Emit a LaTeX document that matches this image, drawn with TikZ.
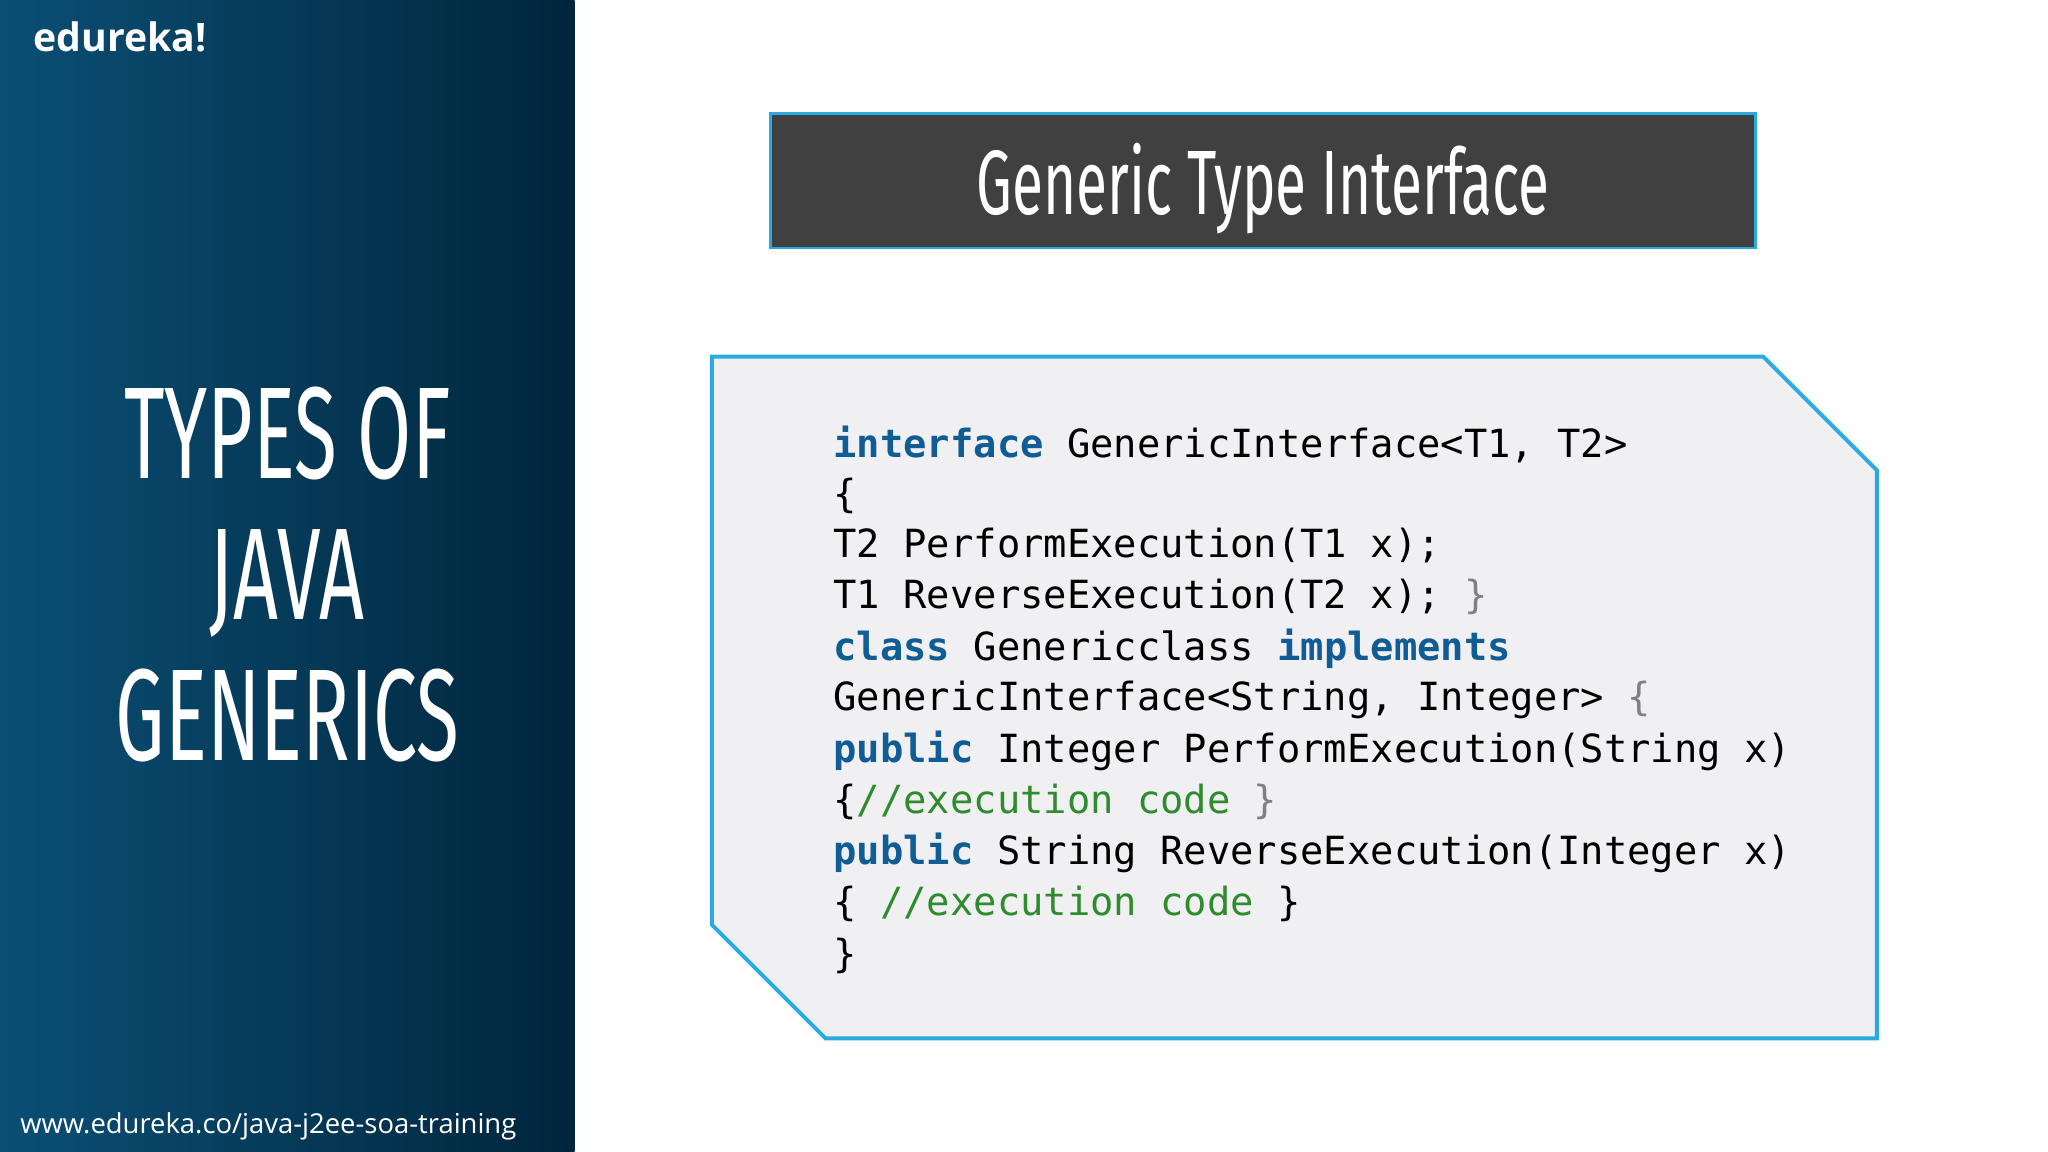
\documentclass[tikz,border=0pt]{standalone}
\usepackage{fontspec}
\setmainfont{Open Sans}
\newfontfamily\codefont{DejaVu Sans Mono}
\newfontfamily\titlefont{Fira Sans}
\definecolor{panelA}{HTML}{0B4F75}
\definecolor{panelB}{HTML}{00253C}
\definecolor{accent}{HTML}{29ABE2}
\definecolor{titlebg}{HTML}{404040}
\definecolor{codebg}{HTML}{F0F0F2}
\definecolor{kw}{HTML}{0F5D94}
\definecolor{cm}{HTML}{2E8B2E}
\definecolor{gr}{HTML}{808080}
\newcommand{\K}[1]{\textcolor{kw}{\bfseries #1}}
\newcommand{\C}[1]{\textcolor{cm}{#1}}
\newcommand{\G}[1]{\textcolor{gr}{#1}}
\tikzset{codeline/.style={anchor=west,inner sep=0pt,font=\codefont\fontsize{29.7}{36}\selectfont,text=black}}
\begin{document}
\begin{tikzpicture}[x=1pt,y=-1pt]
\useasboundingbox (0,0) rectangle (1568,882);
\fill[white] (0,0) rectangle (1568,882);
\shade[left color=panelA,right color=panelB] (0,0) rectangle (440,882);
\node[anchor=west,text=white,font=\bfseries\fontsize{30}{34}\selectfont] (logo) at (22,28) {edureka!};
\node[anchor=west,text=white,font=\fontsize{21}{24}\selectfont] (url) at (12,862) {www.edureka.co/java-j2ee-soa-training};
\node[text=white,align=center,xscale=0.6,font=\titlefont\fontsize{100}{108}\selectfont] (side) at (220,440) {TYPES OF\\JAVA\\GENERICS};
\node[draw=accent,line width=2pt,fill=titlebg,minimum width=754,minimum height=103,inner sep=0pt] (titlebox) at (967,138.5) {};
\node[text=white,xscale=0.62,font=\titlefont\fontsize{70}{76}\selectfont] (title) at ([yshift=-6]titlebox.center) {Generic Type Interface};
\draw[accent,line width=3pt,fill=codebg] (545,273) -- (1350,273) -- (1437,360) -- (1437,795) -- (632,795) -- (545,708) -- cycle;
\node[codeline] (l1) at (638,340) {\K{interface} GenericInterface<T1, T2>};
\node[codeline] (l2) at (638,380) {\{};
\node[codeline] (l3) at (638,418) {T2 PerformExecution(T1 x);};
\node[codeline] (l4) at (638,457) {T1 ReverseExecution(T2 x); \G{\}}};
\node[codeline] (l5) at (638,497) {\K{class} Genericclass \K{implements}};
\node[codeline] (l6) at (638,536) {GenericInterface<String, Integer> \G{\{}};
\node[codeline] (l7) at (638,575) {\K{public} Integer PerformExecution(String x)};
\node[codeline] (l8) at (638,614) {\{\C{//execution code} \G{\}}};
\node[codeline] (l9) at (638,653) {\K{public} String ReverseExecution(Integer x)};
\node[codeline] (l10) at (638,692) {\{ \C{//execution code} \}};
\node[codeline] (l11) at (638,732) {\}};
\end{tikzpicture}
\end{document}
